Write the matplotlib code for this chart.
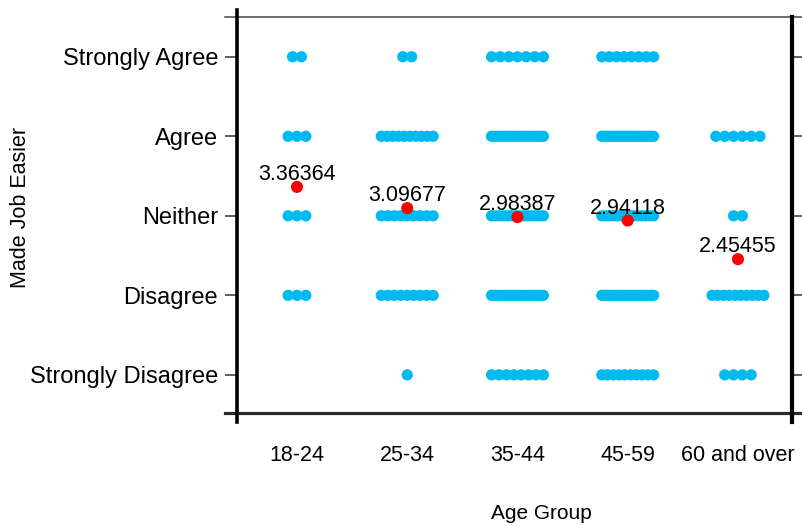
import numpy as np
import matplotlib
matplotlib.use("Agg")
import matplotlib.pyplot as plt

plt.rcParams['font.family'] = ['Liberation Sans', 'DejaVu Sans']

age_groups = ['18-24', '25-34', '35-44', '45-59', '60 and over']
responses = ['Strongly Disagree', 'Disagree', 'Neither', 'Agree', 'Strongly Agree']

# respondents per answer, ordered Strongly Disagree .. Strongly Agree
counts_18_24 = [0, 3, 3, 3, 2]
counts_25_34 = [1, 9, 9, 10, 2]
counts_35_44 = [8, 16, 14, 17, 7]
counts_45_59 = [10, 18, 14, 18, 8]
counts_60_up = [4, 10, 2, 6, 0]

group_means = [3.36364, 3.09677, 2.98387, 2.94118, 2.45455]

all_counts = [counts_18_24, counts_25_34, counts_35_44, counts_45_59, counts_60_up]

blue = '#00BAF0'
red = '#FF0000'

fig = plt.figure(figsize=(8.02, 5.26), dpi=100)
ax = fig.add_axes([0.2955, 0.2148, 0.692, 0.7529])

# spread the dots of each cell sideways, squeezing wide rows
step = 0.08
max_span = 0.47
for gi, counts in enumerate(all_counts):
    for level, n in enumerate(counts, start=1):
        if n == 0:
            continue
        s = step if n < 2 else min(step, max_span / (n - 1))
        xs = gi + (np.arange(n) - (n - 1) / 2) * s
        ax.scatter(xs, np.full(n, level), s=66, color=blue, edgecolors='none', zorder=2)

for gi, m in enumerate(group_means):
    ax.scatter([gi], [m], s=76, color=red, edgecolors='none', zorder=3)
    ax.annotate(f'{m:g}', (gi, m), xytext=(0, 5), textcoords='offset points',
                ha='center', va='baseline', fontsize=15.5, zorder=4)

ax.set_xlim(-0.544, 4.49)
ax.set_ylim(0.52, 5.5)
ax.set_xticks(range(len(age_groups)))
ax.set_xticklabels(age_groups, fontsize=15.5)
ax.set_yticks(range(1, 6))
ax.set_yticklabels(responses, fontsize=17)

for sp in ax.spines.values():
    sp.set_visible(False)

ax.tick_params(axis='x', length=0, pad=23)
ax.tick_params(axis='y', direction='out', length=8.6, width=1.2, color='#444444',
               pad=5, right=True)

# frame lines that run past the corners
w_px, h_px = 555.0, 396.0
ex = 12 / w_px
ey = 9 / h_px
ax.plot([-ex, 1 + ex], [1, 1], transform=ax.transAxes, color='#555555', lw=1.2, clip_on=False)
ax.plot([-ex, 1 + ex], [0, 0], transform=ax.transAxes, color='#2a2a2a', lw=2.3, clip_on=False)
ax.plot([0, 0], [-ey, 1 + 7 / h_px], transform=ax.transAxes, color='black', lw=2.6, clip_on=False)
ax.plot([1, 1], [-ey, 1], transform=ax.transAxes, color='black', lw=3.0, clip_on=False)

ax.set_xlabel('Age Group', fontsize=15)
ax.set_ylabel('Made Job Easier', fontsize=15.5)
ax.xaxis.set_label_coords(0.548, -0.229)
ax.yaxis.set_label_coords(-0.371, 0.52)

fig.savefig('out.png', dpi=100)
